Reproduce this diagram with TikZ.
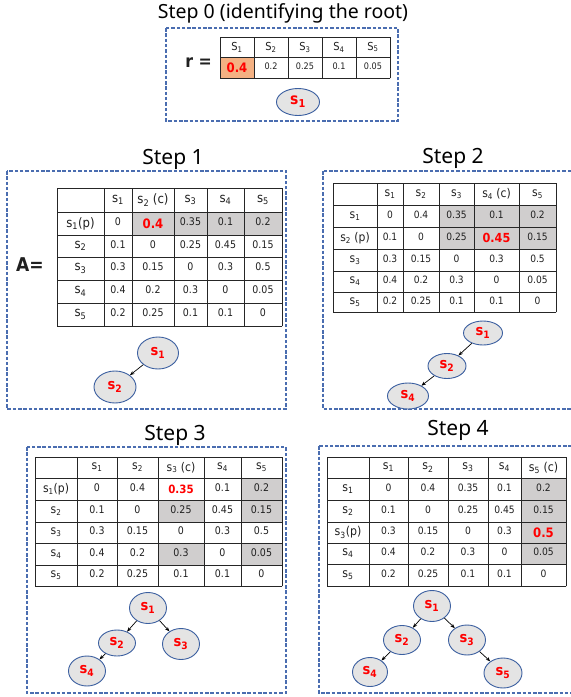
\documentclass[tikz,border=0pt]{standalone}
\usepackage{fontspec}
\setmainfont[FakeStretch=0.9]{DejaVu Sans}
\newfontfamily\titlefont{Noto Sans}
\usetikzlibrary{arrows.meta,shapes.geometric}
\definecolor{boxblue}{HTML}{4A6DB0}
\definecolor{cellgray}{HTML}{D0CECE}
\definecolor{ellfill}{HTML}{E4E4E4}
\definecolor{ellline}{HTML}{3B5FA0}
\definecolor{rootorange}{HTML}{F4B183}
\definecolor{txt}{HTML}{202020}
\newcommand\sub[1]{s\textsubscript{#1}}
\newcommand\Sub[1]{S\textsubscript{#1}}
\def\headfont{\fontsize{12}{14}\selectfont}
\def\valfont{\fontsize{10}{12}\selectfont}
\def\redfont{\bfseries\fontsize{12.5}{14}\selectfont}
\def\datarows{1/0/0.4/0.35/0.1/0.2, 2/0.1/0/0.25/0.45/0.15, 3/0.3/0.15/0/0.3/0.5, 4/0.4/0.2/0.3/0/0.05, 5/0.2/0.25/0.1/0.1/0}
\tikzset{
  stepbox/.style={draw=boxblue, line width=1.2pt, dash pattern=on 3.5pt off 1.8pt},
  gridline/.style={draw=black!85, line width=0.9pt, line cap=rect},
  steptitle/.style={font=\titlefont\fontsize{21}{24}\selectfont, inner sep=0pt, anchor=base},
  treenode/.style={ellipse, draw=ellline, line width=0.9pt, fill=ellfill, inner sep=0pt, text=red, font=\bfseries\fontsize{14.5}{16}\selectfont},
  arr/.style={-{Stealth[length=4.5pt,width=3.5pt]}, line width=0.7pt, black},
  cell/.style={inner sep=0pt, text=txt},
}
\newcommand\settable[2]{\def\xe{#1}\def\ye{#2}%
  \pgfmathsetmacro\xl{\xe[0]}\pgfmathsetmacro\xr{\xe[6]}%
  \pgfmathsetmacro\yt{\ye[0]}\pgfmathsetmacro\yb{\ye[6]}}
\newcommand\cellcenter[2]{% #1 row, #2 col
  \pgfmathsetmacro\xa{\xe[#2]}\pgfmathsetmacro\xb{\xe[#2+1]}%
  \pgfmathsetmacro\ya{\ye[#1]}\pgfmathsetmacro\yb{\ye[#1+1]}%
  \pgfmathsetmacro\cx{(\xa+\xb)/2}\pgfmathsetmacro\cy{(\ya+\yb)/2}}
\newcommand\graycells[1]{\foreach \rr/\cc in {#1}{%
  \pgfmathsetmacro\ca{\xe[\cc]}\pgfmathsetmacro\cb{\xe[\cc+1]}%
  \pgfmathsetmacro\ra{\ye[\rr]}\pgfmathsetmacro\rb{\ye[\rr+1]}%
  \fill[cellgray] (\ca,\ra) rectangle (\cb,\rb);}}
\newcommand\tablegrid{\foreach \i in {0,...,6}{%
  \pgfmathsetmacro\xx{\xe[\i]}\pgfmathsetmacro\yy{\ye[\i]}%
  \draw[gridline] (\xx,\yt) -- (\xx,\yb);
  \draw[gridline] (\xl,\yy) -- (\xr,\yy);}}
\newcommand\tablebody[4]{%
  \foreach \cc/\lab in {#2}{%
    \cellcenter{0}{\cc}%
    \node[cell,font=\headfont] (#1-0-\cc) at (\cx,\cy) {\lab};}
  \foreach \rr/\lab in {#3}{%
    \cellcenter{\rr}{0}%
    \node[cell,font=\headfont] (#1-\rr-0) at (\cx,\cy) {\lab};}
  \foreach \rr/\va/\vb/\vc/\vd/\ve in \datarows{%
    \foreach \cc/\v in {1/\va,2/\vb,3/\vc,4/\vd,5/\ve}{%
      \cellcenter{\rr}{\cc}%
      \ifnum\numexpr\rr*10+\cc\relax=#4\relax
        \node[cell,text=red,font=\redfont] (#1-\rr-\cc) at (\cx,\cy) {\v};
      \else
        \node[cell,font=\valfont,yshift=1.5pt] (#1-\rr-\cc) at (\cx,\cy) {\v};
      \fi}}}
\begin{document}
\begin{tikzpicture}[x=1pt,y=-1pt]
\useasboundingbox (0,0) rectangle (571,697);
\fill[white] (0,0) rectangle (571,697);

% ---------- Step 0 ----------
\node[steptitle, font=\titlefont\fontsize{19.5}{22}\selectfont] (t0) at (283,18) {Step 0 (identifying the root)};
\draw[stepbox] (166,28) rectangle (398,121);
\fill[rootorange] (220,57) rectangle (254,78);
\foreach \xx in {220,254,288,322,356,390}{\draw[gridline] (\xx,37) -- (\xx,78);}
\foreach \yy in {37,57,78}{\draw[gridline] (220,\yy) -- (390,\yy);}
\foreach \cc/\xx in {1/237,2/271,3/305,4/339,5/373}{\node[cell,font=\fontsize{11}{13}\selectfont] (r-h-\cc) at (\xx,47) {\Sub{\cc}};}
\node[cell,text=red,font=\bfseries\fontsize{13}{15}\selectfont] (r-v-1) at (237,67.5) {0.4};
\foreach \cc/\xx/\v in {2/271/0.2,3/305/0.25,4/339/0.1,5/373/0.05}{\node[cell,font=\fontsize{9}{11}\selectfont] (r-v-\cc) at (\xx,66.5) {\v};}
\node[cell,font=\bfseries\fontsize{17.5}{19}\selectfont] (rlab) at (198.5,63) {r =};
\node[treenode,minimum width=43pt,minimum height=27pt,font=\bfseries\fontsize{15.5}{17}\selectfont] (a1) at (298,102) {\sub1};

% ---------- Step 1 ----------
\node[steptitle] (t1) at (173,164) {Step 1};
\draw[stepbox] (7,171) rectangle (286,409);
\settable{{57,104,132,174,207,244,282}}{{188,212,235,257,280,303,326}}
\graycells{1/2,1/3,1/4,1/5}
\tablegrid
\def\headfont{\fontsize{13}{15}\selectfont}\def\valfont{\fontsize{10.5}{12}\selectfont}\def\redfont{\bfseries\fontsize{13}{15}\selectfont}
\tablebody{A}{1/\sub1,2/\sub2 (c),3/\sub3,4/\sub4,5/\sub5}{1/\sub1(p),2/\sub2,3/\sub3,4/\sub4,5/\sub5}{12}
\node[cell,font=\bfseries\fontsize{19}{21}\selectfont] (Alab) at (30,265) {A=};
\node[treenode,minimum width=41pt,minimum height=32pt] (b1) at (158,353) {\sub1};
\node[treenode,minimum width=42pt,minimum height=32pt] (b2) at (115,387) {\sub2};
\draw[arr] (b1) -- (b2);

% ---------- Step 2 ----------
\node[steptitle] (t2) at (453,163) {Step 2};
\draw[stepbox] (323,171) rectangle (580,409);
\settable{{333,377,403,439,474,519,556}}{{183,205,227,249,271,292,312}}
\graycells{1/3,1/4,1/5,2/3,2/4,2/5}
\tablegrid
\def\headfont{\fontsize{12}{14}\selectfont}\def\valfont{\fontsize{10.1}{12}\selectfont}\def\redfont{\bfseries\fontsize{12.5}{14}\selectfont}
\tablebody{B}{1/\sub1,2/\sub2,3/\sub3,4/\sub4 (c),5/\sub5}{1/\sub1,2/\sub2 (p),3/\sub3,4/\sub4,5/\sub5}{24}
\node[treenode,minimum width=39pt,minimum height=24pt] (c1) at (483,333) {\sub1};
\node[treenode,minimum width=38pt,minimum height=25pt] (c2) at (447,366) {\sub2};
\node[treenode,minimum width=41pt,minimum height=26pt] (c4) at (408,396) {\sub4};
\draw[arr] (c1) -- (c2);
\draw[arr] (c2) -- (c4);

% ---------- Step 3 ----------
\node[steptitle] (t3) at (175,440) {Step 3};
\draw[stepbox] (27,447) rectangle (286,693);
\settable{{35,77,117,158,204,241,282}}{{457,478,500,522,543,565,586}}
\graycells{1/5,2/3,2/5,4/3,4/5}
\tablegrid
\def\headfont{\fontsize{12}{14}\selectfont}\def\valfont{\fontsize{10.5}{12}\selectfont}\def\redfont{\bfseries\fontsize{11.4}{13}\selectfont}
\tablebody{C}{1/\sub1,2/\sub2,3/\sub3 (c),4/\sub4,5/\sub5}{1/\sub1(p),2/\sub2,3/\sub3,4/\sub4,5/\sub5}{13}
\node[treenode,minimum width=37pt,minimum height=31pt] (d1) at (148,608) {\sub1};
\node[treenode,minimum width=37pt,minimum height=26pt] (d2) at (117,643) {\sub2};
\node[treenode,minimum width=37pt,minimum height=31pt] (d3) at (181,644) {\sub3};
\node[treenode,minimum width=37pt,minimum height=30pt] (d4) at (87,671) {\sub4};
\draw[arr] (d1) -- (d2);
\draw[arr] (d1) -- (d3);
\draw[arr] (d2) -- (d4);

% ---------- Step 4 ----------
\node[steptitle] (t4) at (458,435) {Step 4};
\draw[stepbox] (319,446) rectangle (580,693);
\settable{{327,369,408,448,488,521,566}}{{457,478,500,522,543,564,586}}
\graycells{1/5,2/5,3/5,4/5}
\tablegrid
\def\headfont{\fontsize{12.2}{14}\selectfont}\def\valfont{\fontsize{10.2}{12}\selectfont}\def\redfont{\bfseries\fontsize{13}{15}\selectfont}
\tablebody{D}{1/\sub1,2/\sub2,3/\sub3,4/\sub4,5/\sub5 (c)}{1/\sub1,2/\sub2,3/\sub3(p),4/\sub4,5/\sub5}{35}
\node[treenode,minimum width=37pt,minimum height=31pt] (e1) at (432,606) {\sub1};
\node[treenode,minimum width=37pt,minimum height=29pt] (e2) at (402,640) {\sub2};
\node[treenode,minimum width=37pt,minimum height=30pt] (e3) at (467,640) {\sub3};
\node[treenode,minimum width=35pt,minimum height=29pt] (e4) at (370,672) {\sub4};
\node[treenode,minimum width=38pt,minimum height=30pt] (e5) at (503,673) {\sub5};
\draw[arr] (e1) -- (e2);
\draw[arr] (e1) -- (e3);
\draw[arr] (e2) -- (e4);
\draw[arr] (e3) -- (e5);
\end{tikzpicture}
\end{document}
